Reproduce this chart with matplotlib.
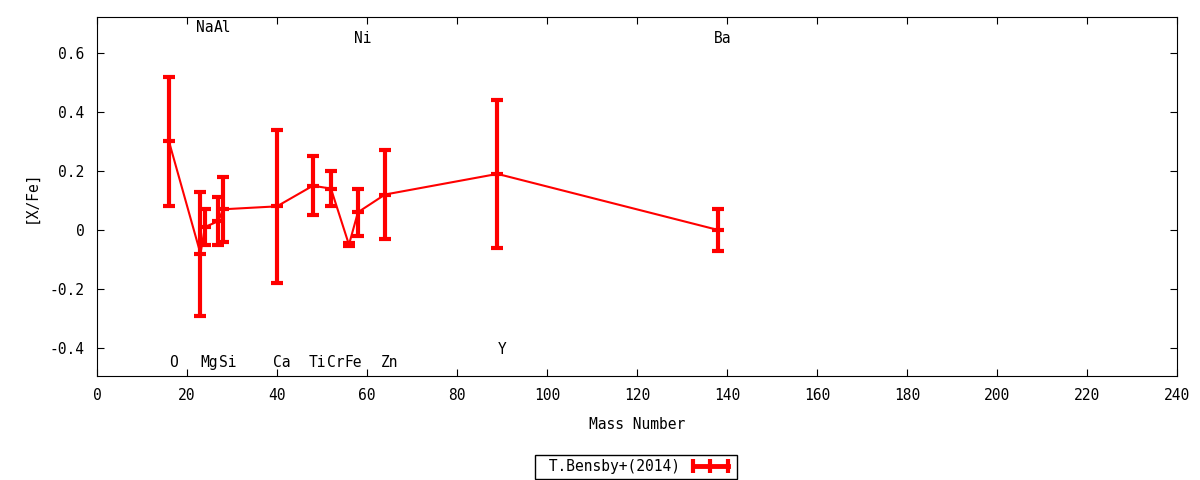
import matplotlib
matplotlib.use("Agg")
import matplotlib.pyplot as plt
from matplotlib.lines import Line2D
from matplotlib.ticker import FuncFormatter, MultipleLocator

# element data
elements = ["O", "Na", "Mg", "Al", "Si", "Ca", "Ti", "Cr", "Fe", "Ni", "Zn", "Y", "Ba"]
mass = [16, 23, 24, 27, 28, 40, 48, 52, 56, 58, 64, 89, 138]
xfe = [0.30, -0.08, 0.01, 0.03, 0.07, 0.08, 0.15, 0.14, -0.05, 0.06, 0.12, 0.19, 0.00]
err_hi = [0.52, 0.13, 0.07, 0.11, 0.18, 0.34, 0.25, 0.20, -0.045, 0.14, 0.27, 0.44, 0.07]
err_lo = [0.08, -0.29, -0.05, -0.05, -0.04, -0.18, 0.05, 0.08, -0.055, -0.02, -0.03, -0.06, -0.07]

# element name labels (x, y) in data units
label_x = [17, 24, 25, 28, 29, 41, 49, 53, 57, 59, 65, 90, 139]
label_y = [-0.45, 0.685, -0.45, 0.685, -0.45, -0.45, -0.45, -0.45, -0.45, 0.65, -0.45, -0.405, 0.65]

RED = "#ff0000"
plt.rcParams["font.family"] = "DejaVu Sans Mono"
plt.rcParams["font.size"] = 10.5

fig = plt.figure(figsize=(12, 4.8), dpi=100)
ax = fig.add_axes([0.0808, 0.2167, 0.9, 0.748])

yerr = [[v - lo for v, lo in zip(xfe, err_lo)], [hi - v for v, hi in zip(xfe, err_hi)]]
ax.errorbar(mass, xfe, yerr=yerr, color=RED, linewidth=1.5,
            elinewidth=3, capsize=4, capthick=3,
            marker="_", markersize=9, markeredgewidth=3)

for name, lx, ly in zip(elements, label_x, label_y):
    ax.text(lx, ly, name, ha="center", va="center")

ax.set_xlim(0, 240)
ax.set_ylim(-0.495, 0.722)
ax.xaxis.set_major_locator(MultipleLocator(20))
ax.yaxis.set_major_locator(MultipleLocator(0.2))
ax.yaxis.set_major_formatter(FuncFormatter(lambda v, p: f"{round(v, 1):g}"))
ax.tick_params(direction="in", top=True, right=True, length=5, labelsize=10.5, pad=9)

ax.set_xlabel("Mass Number", labelpad=10)
ax.set_ylabel("[X/Fe]", labelpad=8)

# gnuplot-style legend sample: horizontal bar with caps at both ends and middle
proxy = Line2D([], [], color=RED, linewidth=3.5, marker="|", markersize=10,
               markeredgewidth=3)
leg = ax.legend([proxy], [" T.Bensby+(2014)"], loc="upper center",
                bbox_to_anchor=(0.499, -0.2), markerfirst=False, numpoints=3,
                fancybox=False, framealpha=1, edgecolor="black",
                handlelength=3.0, borderpad=0.3, handletextpad=0.6)
leg.get_frame().set_linewidth(1)

fig.savefig("out.png", dpi=100)
